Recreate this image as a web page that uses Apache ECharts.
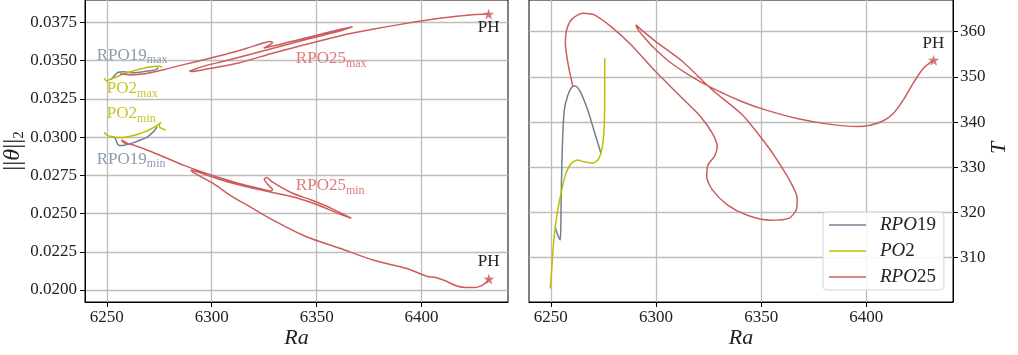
<!DOCTYPE html>
<html><head><meta charset="utf-8">
<script src="https://cdn.jsdelivr.net/npm/echarts@6/dist/echarts.min.js"></script>
<style>html,body{margin:0;padding:0;background:#fff}#c{width:1018px;height:355px}</style>
</head><body><div id="c"></div><script>
// ---- tick labels ----
const raTicks = [6250, 6300, 6350, 6400];
const normTicks = [0.0200, 0.0225, 0.0250, 0.0275, 0.0300, 0.0325, 0.0350, 0.0375];
const tTicks = [310, 320, 330, 340, 350, 360];
const seriesNames = ['RPO19', 'PO2', 'RPO25'];

// ---- left panel: [Ra, ||theta||_2] ----
const RPO19_max = [[6251.9,0.03376],[6253.1,0.03392],[6254.3,0.03412],[6255.5,0.03423],[6257.6,0.03427],[6260.0,0.03424],[6261.4,0.03420],[6265.7,0.03424],[6270.5,0.03433],[6273.5,0.03441],[6274.5,0.03455]];
const RPO19_min = [[6251.9,0.03003],[6253.6,0.02997],[6254.5,0.02977],[6254.9,0.02958],[6256.0,0.02945],[6257.6,0.02945],[6260.0,0.02952],[6262.4,0.02962],[6265.7,0.02979],[6269.0,0.02998],[6271.4,0.03024],[6273.1,0.03049],[6274.0,0.03070]];
const PO2_max = [[6248.8,0.03386],[6249.8,0.03366],[6251.4,0.03376],[6253.8,0.03389],[6256.2,0.03402],[6259.5,0.03419],[6263.3,0.03435],[6267.1,0.03448],[6270.5,0.03458],[6273.3,0.03463],[6275.2,0.03462],[6276.4,0.03455]];
const PO2_min = [[6248.7,0.03031],[6250.0,0.03013],[6251.9,0.03003],[6254.8,0.02997],[6257.6,0.02997],[6261.0,0.03005],[6264.8,0.03018],[6268.6,0.03037],[6271.4,0.03056],[6273.8,0.03075],[6275.8,0.03096],[6275.0,0.03078],[6275.3,0.03062],[6277.0,0.03051],[6278.1,0.03048]];
const RPO25_max = [[6256.2,0.03413],[6261.0,0.03406],[6268.1,0.03413],[6277.6,0.03442],[6287.1,0.03475],[6296.7,0.03507],[6306.2,0.03540],[6315.7,0.03576],[6323.8,0.03612],[6327.6,0.03625],[6329.0,0.03618],[6327.6,0.03602],[6324.8,0.03582],[6332.4,0.03605],[6341.9,0.03638],[6351.4,0.03670],[6361.0,0.03703],[6367.1,0.03721],[6361.0,0.03693],[6346.7,0.03644],[6332.4,0.03592],[6318.1,0.03540],[6306.2,0.03497],[6296.7,0.03465],[6291.0,0.03439],[6289.5,0.03432],[6291.0,0.03429],[6299.0,0.03448],[6313.3,0.03486],[6329.0,0.03548],[6345.1,0.03606],[6361.0,0.03661],[6376.7,0.03704],[6392.7,0.03743],[6408.6,0.03776],[6424.3,0.03800],[6432.0,0.03804]];
const RPO25_min = [[6260.0,0.02956],[6258.1,0.02971],[6257.0,0.02981],[6258.3,0.02963],[6263.3,0.02945],[6271.3,0.02904],[6287.1,0.02813],[6303.0,0.02737],[6315.7,0.02686],[6323.8,0.02660],[6328.1,0.02647],[6329.0,0.02657],[6326.7,0.02690],[6325.0,0.02726],[6326.2,0.02735],[6328.6,0.02709],[6338.0,0.02636],[6347.5,0.02588],[6357.0,0.02534],[6366.5,0.02469],[6360.1,0.02501],[6350.6,0.02556],[6341.1,0.02600],[6332.4,0.02628],[6315.7,0.02678],[6303.0,0.02726],[6293.5,0.02771],[6290.2,0.02784],[6290.5,0.02775],[6294.3,0.02745],[6300.5,0.02698],[6308.6,0.02621],[6318.1,0.02545],[6329.0,0.02458],[6345.1,0.02348],[6361.0,0.02273],[6376.8,0.02196],[6392.7,0.02142],[6399.0,0.02108],[6402.9,0.02088],[6406.7,0.02082],[6411.0,0.02062],[6416.5,0.02028],[6421.0,0.02016],[6425.2,0.02016],[6428.6,0.02029],[6431.0,0.02052],[6432.1,0.02072]];
const PH_norm = [[6432.0,0.03804],[6432.1,0.02072]];

// ---- right panel: [Ra, T] ----
const RPO19_T = [[6252.0,316.9],[6253.3,315.0],[6254.4,313.9],[6254.7,316.1],[6254.9,322.8],[6255.2,330.1],[6255.7,337.5],[6256.4,342.7],[6258.1,346.0],[6259.9,347.7],[6261.5,348.0],[6264.0,346.7],[6267.2,343.1],[6270.4,338.3],[6273.8,333.1]];
const PO2_T = [[6249.7,303.2],[6250.5,308.0],[6251.4,313.9],[6253.0,319.8],[6255.0,324.6],[6256.8,328.1],[6259.3,330.6],[6262.5,331.6],[6265.9,331.2],[6269.6,330.9],[6272.3,331.6],[6273.8,333.1],[6274.9,336.0],[6275.5,341.2],[6275.6,348.6],[6275.6,354.1]];
const RPO25_T = [[6260.4,348.0],[6258.4,352.3],[6256.9,357.4],[6257.7,360.75],[6260.4,362.96],[6265.2,364.07],[6270.7,363.7],[6278.6,361.1],[6288.1,357.1],[6299.1,351.5],[6311.8,345.6],[6321.2,341.2],[6326.8,337.5],[6329.1,334.6],[6327.9,332.5],[6324.7,330.5],[6324.1,327.9],[6326.8,325.0],[6333.9,321.7],[6343.4,319.4],[6354.4,318.3],[6363.1,318.7],[6366.7,320.6],[6367.1,323.1],[6363.9,326.8],[6357.6,331.6],[6352.0,335.3],[6341.0,341.6],[6326.8,347.1],[6312.6,353.4],[6299.9,357.8],[6292.8,360.5],[6290.4,361.5],[6291.5,360.4],[6295.2,358.3],[6298.3,356.7],[6306.2,353.4],[6315.7,350.4],[6326.8,347.5],[6341.0,344.5],[6352.0,342.7],[6367.1,340.8],[6381.3,339.6],[6395.5,339.0],[6401.8,339.3],[6408.1,340.3],[6412.8,341.9],[6417.6,344.9],[6422.3,348.6],[6427.1,351.9],[6432.0,353.7]];
const PH_T = [[6432.0,353.7]];

// ---- annotations (data coords) ----
const annotations = [
  {g:0, at:[6245.2,0.03536], main:'RPO19', sub:'max', key:'RPO19', align:'left'},
  {g:0, at:[6250.0,0.03314], main:'PO2', sub:'max', key:'PO2', align:'left'},
  {g:0, at:[6250.0,0.03151], main:'PO2', sub:'min', key:'PO2', align:'left'},
  {g:0, at:[6245.2,0.02856], main:'RPO19', sub:'min', key:'RPO19', align:'left'},
  {g:0, at:[6340.1,0.03510], main:'RPO25', sub:'max', key:'RPO25', align:'left'},
  {g:0, at:[6340.1,0.02680], main:'RPO25', sub:'min', key:'RPO25', align:'left'},
  {g:0, at:[6432.0,0.03713], main:'PH', sub:'', key:'PH', align:'center'},
  {g:0, at:[6432.0,0.02183], main:'PH', sub:'', key:'PH', align:'center'},
  {g:1, at:[6431.9,357.4], main:'PH', sub:'', key:'PH', align:'center'}
];

const FONT = '"Liberation Serif","DejaVu Serif",serif';
const colors = {RPO19:'#708090', PO2:'#bfbf00', RPO25:'#cd5c5c'};
const labelColors = {RPO19:'#8d9bae', PO2:'#c6c626', RPO25:'#e07a7a', PH:'#222222'};
const STAR = 'path://M0,-10 L2.35,-3.24 L9.51,-3.09 L3.8,1.24 L5.88,8.09 L0,4 L-5.88,8.09 L-3.8,1.24 L-9.51,-3.09 L-2.35,-3.24 Z';

const chart = echarts.init(document.getElementById('c'), null, {renderer:'canvas'});

function xAxisCfg(gi){
  return {gridIndex:gi, type:'value', min:6239.6, max:6441.2,
    axisLine:{show:true, onZero:false, lineStyle:{color:'#000', width:1}},
    axisTick:{show:true, inside:false, length:5, customValues:raTicks, lineStyle:{color:'#000'}},
    axisLabel:{show:true, customValues:raTicks, margin:7, fontFamily:FONT, fontSize:17, color:'#222', formatter:v=>String(Math.round(v))},
    splitLine:{show:true, lineStyle:{color:'#bdbdbd', width:1.3}}};
}
function yAxisCfg(gi, min, max, ticks, pos, fmt, margin){
  return {gridIndex:gi, type:'value', min:min, max:max, position:pos,
    axisLine:{show:true, onZero:false, lineStyle:{color:'#000', width:1}},
    axisTick:{show:true, inside:false, length:5, customValues:ticks, lineStyle:{color:'#000'}},
    axisLabel:{show:true, customValues:ticks, margin:margin, fontFamily:FONT, fontSize:17, color:'#222', formatter:fmt},
    splitLine:{show:true, lineStyle:{color:'#bdbdbd', width:1.3}}};
}
function lineS(name, data, key, gi){
  return {name:name, type:'line', xAxisIndex:gi, yAxisIndex:gi, data:data, symbol:'none', showSymbol:false,
    smooth:0.25, lineStyle:{color:colors[key], width:1.5}, itemStyle:{color:colors[key]}, silent:true, animation:false};
}

const option = {
  animation:false,
  backgroundColor:'#fff',
  grid:[
    {left:85, top:0, width:423, height:302, show:true, borderColor:'#000', borderWidth:1, backgroundColor:'transparent', containLabel:false, outerBoundsMode:'none'},
    {left:529, top:0, width:424, height:302, show:true, borderColor:'#000', borderWidth:1, backgroundColor:'transparent', containLabel:false, outerBoundsMode:'none'}
  ],
  xAxis:[xAxisCfg(0), xAxisCfg(1)],
  yAxis:[
    yAxisCfg(0, 0.019216, 0.038958, normTicks, 'left', v=>v.toFixed(4), 8),
    yAxisCfg(1, 300.2, 367.0, tTicks, 'right', v=>String(Math.round(v)), 7)
  ],
  legend:{
    show:true, data:seriesNames, orient:'vertical', left:823, top:212,
    icon:'rect', itemWidth:37, itemHeight:1.5, itemGap:6, padding:[3,8,3,6],
    backgroundColor:'rgba(255,255,255,0.85)', borderColor:'#d5d5d5', borderWidth:1, borderRadius:4,
    selectedMode:false,
    textStyle:{fontFamily:FONT, fontSize:19, color:'#222', lineHeight:20,
      rich:{i:{fontFamily:FONT, fontSize:19, fontStyle:'italic', color:'#222', padding:[0,0,0,9], lineHeight:20},
            n:{fontFamily:FONT, fontSize:19, color:'#222', lineHeight:20}}},
    formatter:function(name){ const m = name.match(/^([A-Z]+)(\d+)$/); return '{i|'+m[1]+'}{n|'+m[2]+'}'; }
  },
  series:[
    lineS('RPO19 max', RPO19_max, 'RPO19', 0),
    lineS('RPO19 min', RPO19_min, 'RPO19', 0),
    lineS('PO2 max', PO2_max, 'PO2', 0),
    lineS('PO2 min', PO2_min, 'PO2', 0),
    lineS('RPO25 max', RPO25_max, 'RPO25', 0),
    lineS('RPO25 min', RPO25_min, 'RPO25', 0),
    {name:'PH left', type:'scatter', xAxisIndex:0, yAxisIndex:0, data:PH_norm, symbol:STAR, symbolSize:11, itemStyle:{color:colors.RPO25}, silent:true, z:5},
    lineS('RPO19', RPO19_T, 'RPO19', 1),
    lineS('PO2', PO2_T, 'PO2', 1),
    lineS('RPO25', RPO25_T, 'RPO25', 1),
    {name:'PH right', type:'scatter', xAxisIndex:1, yAxisIndex:1, data:PH_T, symbol:STAR, symbolSize:11, itemStyle:{color:colors.RPO25}, silent:true, z:5}
  ]
};
chart.setOption(option);

const graphics = [];
annotations.forEach(a => {
  const p = chart.convertToPixel({gridIndex:a.g}, a.at);
  const c = labelColors[a.key];
  const txt = a.sub ? '{m|'+a.main+'}{s|'+a.sub+'}' : '{m|'+a.main+'}';
  graphics.push({type:'text', x:p[0], y:p[1], silent:true, z:10,
    style:{text:txt, align:a.align, textAlign:a.align, verticalAlign:'middle', textVerticalAlign:'middle', fill:c,
      rich:{m:{fontFamily:FONT, fontSize:17, fill:c, color:c, lineHeight:22},
            s:{fontFamily:FONT, fontSize:12, fill:c, color:c, lineHeight:14, verticalAlign:'bottom'}}}});
});
// axis titles
graphics.push({type:'text', x:296.5, y:338, silent:true,
  style:{text:'Ra', font:'italic 22px '+FONT, fill:'#222', align:'center', textAlign:'center', verticalAlign:'middle', textVerticalAlign:'middle'}});
graphics.push({type:'text', x:741, y:338, silent:true,
  style:{text:'Ra', font:'italic 22px '+FONT, fill:'#222', align:'center', textAlign:'center', verticalAlign:'middle', textVerticalAlign:'middle'}});
graphics.push({type:'text', x:13, y:151, rotation:Math.PI/2, silent:true,
  style:{text:'{b|||}{t|θ}{b|||}{s|2}', align:'center', textAlign:'center', verticalAlign:'middle', textVerticalAlign:'middle', fill:'#222',
    rich:{b:{fontFamily:FONT, fontSize:25, fill:'#222', lineHeight:28},
          t:{fontFamily:FONT, fontSize:24, fontStyle:'italic', fill:'#222', lineHeight:28},
          s:{fontFamily:FONT, fontSize:15, fill:'#222', lineHeight:17, verticalAlign:'bottom'}}}});
graphics.push({type:'text', x:999, y:148, rotation:Math.PI/2, silent:true,
  style:{text:'T', font:'italic 22px '+FONT, fill:'#222', align:'center', textAlign:'center', verticalAlign:'middle', textVerticalAlign:'middle'}});
chart.setOption({graphic:graphics});
</script></body></html>
